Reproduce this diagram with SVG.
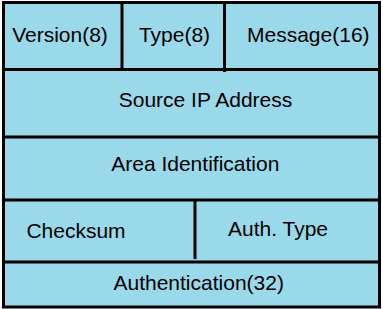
<svg xmlns="http://www.w3.org/2000/svg" width="383" height="309" viewBox="0 0 383 309">
<style>
.cell{fill:#99d9ea;stroke:none}
.ln{stroke:#000;stroke-width:3;fill:none}
text{font-family:"Liberation Sans",Arial,sans-serif;font-size:21px;fill:#000}
.m{text-anchor:middle}
</style>
<rect width="383" height="309" fill="#ffffff"/>
<g id="frame">
<rect class="cell" x="3" y="3" width="376" height="304"/>
</g>
<g id="version"><text class="m" x="60" y="41.5">Version(8)</text></g>
<g id="type"><text class="m" x="174.5" y="41.5">Type(8)</text></g>
<g id="message"><text class="m" x="308.3" y="41.5">Message(16)</text></g>
<g id="source"><text class="m" x="205.5" y="107">Source IP Address</text></g>
<g id="area"><text class="m" x="195.3" y="171">Area Identification</text></g>
<g id="checksum"><text class="m" x="76" y="238">Checksum</text></g>
<g id="authtype"><text class="m" x="278" y="236">Auth. Type</text></g>
<g id="authentication"><text class="m" x="198.7" y="290">Authentication(32)</text></g>
<g id="connectors">
<rect class="ln" x="3.5" y="2.5" width="376" height="304.5"/>
<line class="ln" x1="3" y1="69.5" x2="380" y2="69.5"/>
<line class="ln" x1="3" y1="137" x2="380" y2="137"/>
<line class="ln" x1="3" y1="200" x2="380" y2="200"/>
<line class="ln" x1="3" y1="262" x2="380" y2="262"/>
<line class="ln" x1="122" y1="3" x2="122" y2="69"/>
<line class="ln" x1="224.5" y1="3" x2="224.5" y2="72"/>
<line class="ln" x1="195" y1="200" x2="195" y2="259"/>
</g>
</svg>
